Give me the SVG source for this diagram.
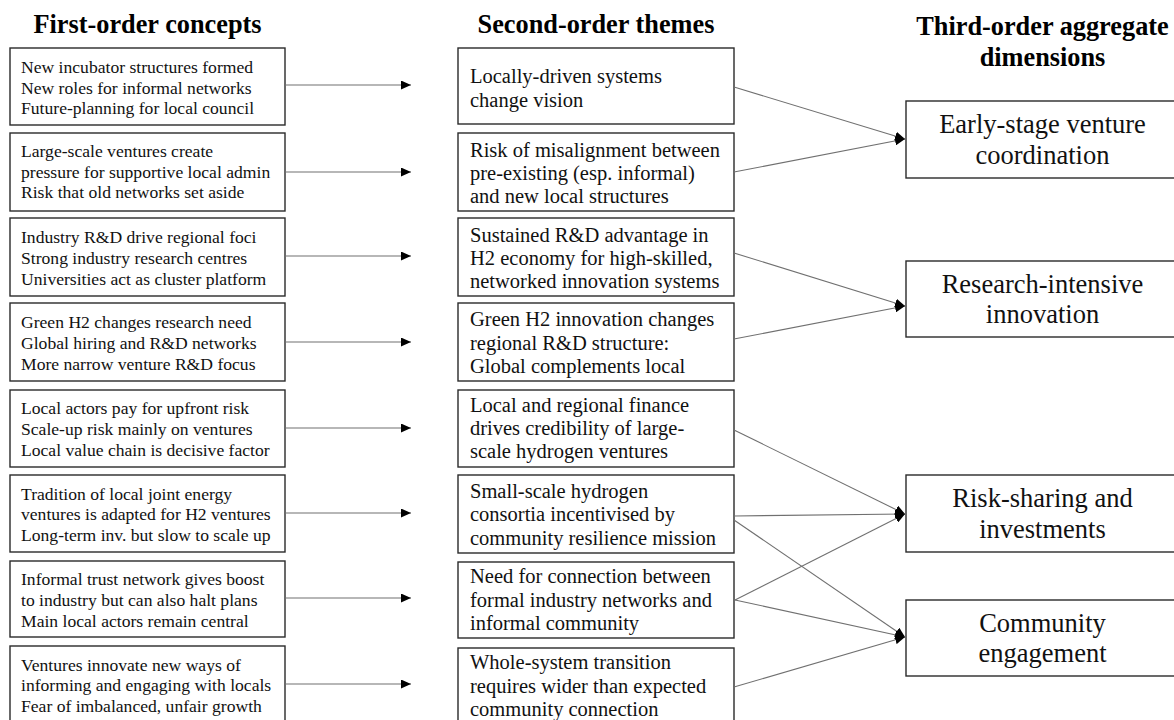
<svg xmlns="http://www.w3.org/2000/svg" width="1174" height="720" viewBox="0 0 1174 720">
  <style>
    .bg { fill: #ffffff; }
    .box { fill: #ffffff; stroke: #2a2a2a; stroke-width: 1.4; }
    .head { font-family: "Liberation Serif", "Times New Roman", serif; font-weight: bold; font-size: 26.3px; fill: #000; text-anchor: middle; }
    .t1 { font-family: "Liberation Serif", "Times New Roman", serif; font-size: 17.6px; fill: #111; }
    .t2 { font-family: "Liberation Serif", "Times New Roman", serif; font-size: 20.5px; fill: #111; }
    .t3 { font-family: "Liberation Serif", "Times New Roman", serif; font-size: 26.5px; fill: #111; text-anchor: middle; }
    .link { fill: none; stroke: #707070; stroke-width: 1.1; marker-end: url(#arrow); }
  </style>
  <defs>
    <marker id="arrow" markerUnits="userSpaceOnUse" viewBox="0 0 10 9" refX="10" refY="4.5" markerWidth="10" markerHeight="9" orient="auto">
      <path d="M0,0 L10,4.5 L0,9 z" fill="#000"/>
    </marker>
  </defs>

  <rect class="bg" x="0" y="0" width="1174" height="720"/>

  <!-- column headings -->
  <g id="headings">
    <text class="head" x="147.5" y="33">First-order concepts</text>
    <text class="head" x="596" y="33">Second-order themes</text>
    <text class="head" x="1042.5" y="35">Third-order aggregate</text>
    <text class="head" x="1042.5" y="66">dimensions</text>
  </g>

  <!-- first-order concepts -->
  <g id="c1">
    <rect class="box" x="10" y="48" width="275" height="77"/>
    <text class="t1" x="21" y="73">New incubator structures formed</text>
    <text class="t1" x="21" y="93.5">New roles for informal networks</text>
    <text class="t1" x="21" y="114">Future-planning for local council</text>
  </g>
  <g id="c2">
    <rect class="box" x="10" y="133" width="275" height="78"/>
    <text class="t1" x="21" y="157">Large-scale ventures create</text>
    <text class="t1" x="21" y="177.5">pressure for supportive local admin</text>
    <text class="t1" x="21" y="198">Risk that old networks set aside</text>
  </g>
  <g id="c3">
    <rect class="box" x="10" y="218" width="275" height="78"/>
    <text class="t1" x="21" y="243">Industry R&amp;D drive regional foci</text>
    <text class="t1" x="21" y="263.5">Strong industry research centres</text>
    <text class="t1" x="21" y="284.5">Universities act as cluster platform</text>
  </g>
  <g id="c4">
    <rect class="box" x="10" y="303" width="275" height="78"/>
    <text class="t1" x="21" y="328">Green H2 changes research need</text>
    <text class="t1" x="21" y="348.5">Global hiring and R&amp;D networks</text>
    <text class="t1" x="21" y="369.5">More narrow venture R&amp;D focus</text>
  </g>
  <g id="c5">
    <rect class="box" x="10" y="390" width="275" height="77"/>
    <text class="t1" x="21" y="414">Local actors pay for upfront risk</text>
    <text class="t1" x="21" y="435">Scale-up risk mainly on ventures</text>
    <text class="t1" x="21" y="456">Local value chain is decisive factor</text>
  </g>
  <g id="c6">
    <rect class="box" x="10" y="475" width="275" height="77"/>
    <text class="t1" x="21" y="499.5">Tradition of local joint energy</text>
    <text class="t1" x="21" y="520">ventures is adapted for H2 ventures</text>
    <text class="t1" x="21" y="541">Long-term inv. but slow to scale up</text>
  </g>
  <g id="c7">
    <rect class="box" x="10" y="561" width="275" height="76"/>
    <text class="t1" x="21" y="585">Informal trust network gives boost</text>
    <text class="t1" x="21" y="605.5">to industry but can also halt plans</text>
    <text class="t1" x="21" y="626.5">Main local actors remain central</text>
  </g>
  <g id="c8">
    <rect class="box" x="10" y="646" width="275" height="78"/>
    <text class="t1" x="21" y="670.5">Ventures innovate new ways of</text>
    <text class="t1" x="21" y="691">informing and engaging with locals</text>
    <text class="t1" x="21" y="712">Fear of imbalanced, unfair growth</text>
  </g>

  <!-- second-order themes -->
  <g id="s1">
    <rect class="box" x="458" y="48" width="276" height="76"/>
    <text class="t2" x="470" y="83">Locally-driven systems</text>
    <text class="t2" x="470" y="107">change vision</text>
  </g>
  <g id="s2">
    <rect class="box" x="458" y="133" width="276" height="78"/>
    <text class="t2" x="470" y="157">Risk of misalignment between</text>
    <text class="t2" x="470" y="180">pre-existing (esp. informal)</text>
    <text class="t2" x="470" y="203">and new local structures</text>
  </g>
  <g id="s3">
    <rect class="box" x="458" y="218" width="276" height="78"/>
    <text class="t2" x="470" y="242">Sustained R&amp;D advantage in</text>
    <text class="t2" x="470" y="265">H2 economy for high-skilled,</text>
    <text class="t2" x="470" y="288">networked innovation systems</text>
  </g>
  <g id="s4">
    <rect class="box" x="458" y="303" width="276" height="78"/>
    <text class="t2" x="470" y="326">Green H2 innovation changes</text>
    <text class="t2" x="470" y="350">regional R&amp;D structure:</text>
    <text class="t2" x="470" y="373">Global complements local</text>
  </g>
  <g id="s5">
    <rect class="box" x="458" y="390" width="276" height="77"/>
    <text class="t2" x="470" y="412">Local and regional finance</text>
    <text class="t2" x="470" y="435">drives credibility of large-</text>
    <text class="t2" x="470" y="458">scale hydrogen ventures</text>
  </g>
  <g id="s6">
    <rect class="box" x="458" y="475" width="276" height="78"/>
    <text class="t2" x="470" y="497.5">Small-scale hydrogen</text>
    <text class="t2" x="470" y="521">consortia incentivised by</text>
    <text class="t2" x="470" y="544.5">community resilience mission</text>
  </g>
  <g id="s7">
    <rect class="box" x="458" y="562" width="276" height="76"/>
    <text class="t2" x="470" y="583">Need for connection between</text>
    <text class="t2" x="470" y="607">formal industry networks and</text>
    <text class="t2" x="470" y="630">informal community</text>
  </g>
  <g id="s8">
    <rect class="box" x="458" y="648" width="276" height="78"/>
    <text class="t2" x="470" y="669">Whole-system transition</text>
    <text class="t2" x="470" y="692.5">requires wider than expected</text>
    <text class="t2" x="470" y="716">community connection</text>
  </g>

  <!-- third-order aggregate dimensions -->
  <g id="d1">
    <rect class="box" x="906" y="101" width="276" height="77"/>
    <text class="t3" x="1042.5" y="133">Early-stage venture</text>
    <text class="t3" x="1042.5" y="164">coordination</text>
  </g>
  <g id="d2">
    <rect class="box" x="906" y="261" width="276" height="76"/>
    <text class="t3" x="1042.5" y="293">Research-intensive</text>
    <text class="t3" x="1042.5" y="323">innovation</text>
  </g>
  <g id="d3">
    <rect class="box" x="906" y="475" width="276" height="77"/>
    <text class="t3" x="1042.5" y="507">Risk-sharing and</text>
    <text class="t3" x="1042.5" y="538">investments</text>
  </g>
  <g id="d4">
    <rect class="box" x="906" y="600" width="276" height="76"/>
    <text class="t3" x="1042.5" y="632">Community</text>
    <text class="t3" x="1042.5" y="662">engagement</text>
  </g>

  <!-- connectors -->
  <g id="connectors">
    <line class="link" x1="285" y1="85" x2="411" y2="85"/>
    <line class="link" x1="285" y1="172" x2="411" y2="172"/>
    <line class="link" x1="285" y1="256" x2="411" y2="256"/>
    <line class="link" x1="285" y1="342" x2="411" y2="342"/>
    <line class="link" x1="285" y1="428" x2="411" y2="428"/>
    <line class="link" x1="285" y1="513" x2="411" y2="513"/>
    <line class="link" x1="285" y1="598" x2="411" y2="598"/>
    <line class="link" x1="285" y1="684" x2="411" y2="684"/>

    <line class="link" x1="734" y1="87" x2="905" y2="139"/>
    <line class="link" x1="734" y1="172" x2="905" y2="139"/>
    <line class="link" x1="734" y1="253" x2="905" y2="306"/>
    <line class="link" x1="734" y1="339" x2="905" y2="306"/>
    <line class="link" x1="734" y1="430" x2="905" y2="514"/>
    <line class="link" x1="734" y1="516" x2="905" y2="514"/>
    <line class="link" x1="734" y1="520" x2="905" y2="637"/>
    <line class="link" x1="735" y1="600" x2="905" y2="514"/>
    <line class="link" x1="735" y1="600" x2="905" y2="637"/>
    <line class="link" x1="734" y1="687" x2="905" y2="637"/>
  </g>
</svg>
